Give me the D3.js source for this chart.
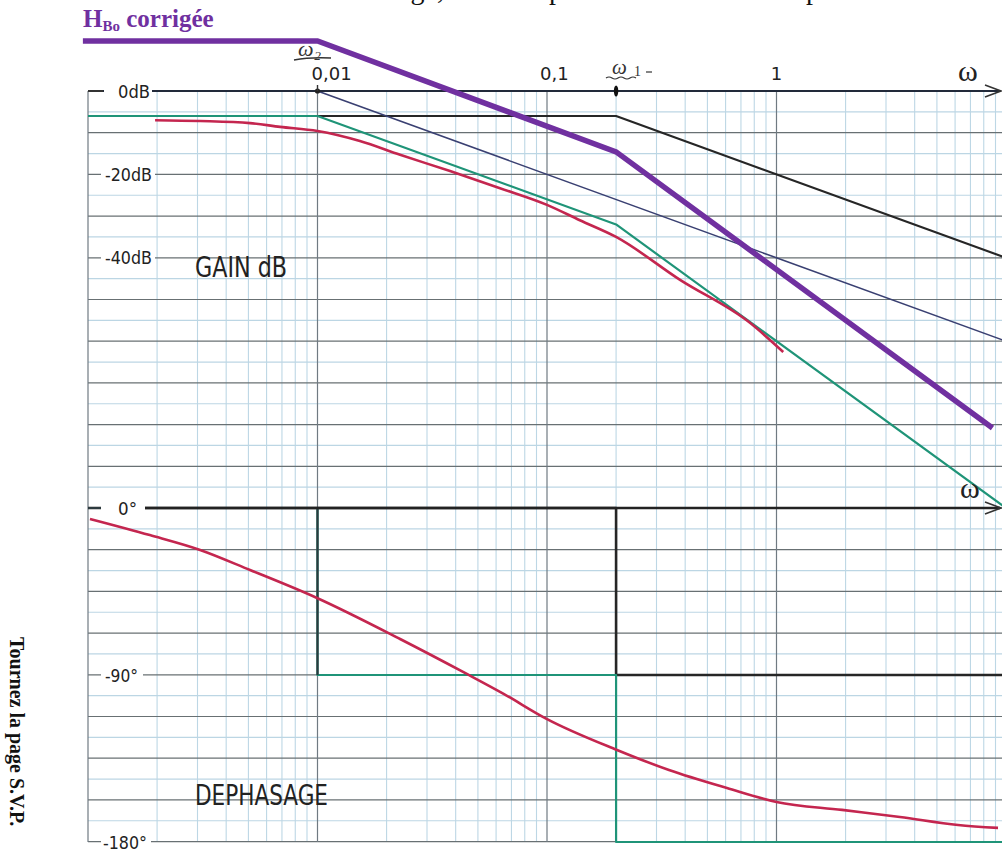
<!DOCTYPE html>
<html><head><meta charset="utf-8">
<script src="https://cdn.jsdelivr.net/npm/d3@7"></script>
<style>html,body{margin:0;padding:0;background:#fff;overflow:hidden}</style>
</head><body>
<script>
// ---------- data ----------
const decadeTicks = [0.01, 0.1, 1];
const decadeLabels = ["0,01", "0,1", "1"];
const gainTicks = [0, -20, -40];
const gainLabels = ["0dB", "-20dB", "-40dB"];
const phaseTicks = [0, -90, -180];
const phaseLabels = ["0°", "-90°", "-180°"];
const omega2 = 0.01;
const omega1 = 0.2;

// gain asymptotes [omega, dB]
const blackGain = [[0.001, -6], [0.2, -6], [10, -40]];
const greenGain = [[0.001, -6], [0.01, -6], [0.2, -32], [10, -100]];
const navyGain = [[0.001, 0], [0.01, 0], [10, -60]];
const purpleGain = [[0.00095, 12], [0.01, 12], [0.2, -14.6], [8.73, -80.8]];
// measured gain curve [omega, dB]
const redGain = [[0.00196, -7.0], [0.00308, -7.2], [0.00508, -7.7], [0.00687, -8.6], [0.01, -9.6],
  [0.0153, -12.0], [0.0229, -15.3], [0.0378, -19.2], [0.0624, -23.3], [0.1, -27.3], [0.139, -31.0],
  [0.2, -35.0], [0.38, -45.3], [0.766, -55.6], [1.07, -62.6]];

// phase asymptotes [omega, deg]
const blackPhase = [[0.001, 0], [0.2, 0], [0.2, -90], [10, -90]];
const greenPhase = [[0.001, 0], [0.01, 0], [0.01, -90], [0.2, -90], [0.2, -180], [10, -180]];
const navyPhase = [[0.001, 0], [0.01, 0], [0.01, -90]];
// measured phase curve [omega, deg]
const redPhase = [[0.00102, -5.9], [0.00186, -14.6], [0.00308, -22.6], [0.00508, -33.4], [0.00995, -48.5],
  [0.0229, -70.6], [0.0439, -88.9], [0.065, -100.3], [0.0991, -113.5], [0.2018, -130.4], [0.34, -141.2],
  [0.608, -150.9], [1.0, -158.4], [1.93, -162.7], [3.45, -166.5], [6.18, -170.8], [9.23, -172.4]];

// ---------- scales ----------
const W = 1002, H = 851;
const x = d3.scaleLog().domain([0.001, 10]).range([88, 1006]);
const yG = d3.scaleLinear().domain([0, -100]).range([91, 508]);
const yP = d3.scaleLinear().domain([0, -180]).range([508, 842]);

const svg = d3.select("body").append("svg").attr("width", W).attr("height", H)
  .style("font-family", "'DejaVu Sans', sans-serif");
svg.append("rect").attr("width", W).attr("height", H).attr("fill", "#ffffff");

// ---------- paper grid ----------
const grid = svg.append("g");
const minor = [];
[0.001, 0.01, 0.1, 1].forEach(d => { for (let k = 2; k <= 9; k++) minor.push(d * k); });
grid.selectAll(".vmin").data(minor).join("line")
  .attr("x1", d => x(d)).attr("x2", d => x(d)).attr("y1", yG(0)).attr("y2", yP(-180))
  .attr("stroke", "#bdd7e5").attr("stroke-width", 1.1);
const hvals = d3.range(-5, -181, -5);
grid.selectAll(".h").data(hvals).join("line")
  .attr("x1", x(0.001)).attr("x2", W).attr("y1", d => yG(d)).attr("y2", d => yG(d))
  .attr("stroke", d => d % 10 === 0 ? "#687073" : "#bcd6e4")
  .attr("stroke-width", d => d % 10 === 0 ? 1.2 : 1.2);
grid.selectAll(".vmaj").data([0.001, 0.01, 0.1, 1]).join("line")
  .attr("x1", d => x(d)).attr("x2", d => x(d)).attr("y1", yG(0)).attr("y2", yP(-180))
  .attr("stroke", "#707a82").attr("stroke-width", 1.2);

// ---------- curves ----------
const lineG = d3.line().x(d => x(d[0])).y(d => yG(d[1]));
const lineGs = d3.line().x(d => x(d[0])).y(d => yG(d[1])).curve(d3.curveMonotoneX);
const lineP = d3.line().x(d => x(d[0])).y(d => yP(d[1]));
const linePs = d3.line().x(d => x(d[0])).y(d => yP(d[1])).curve(d3.curveMonotoneX);

const curves = svg.append("g").attr("fill", "none").attr("stroke-linejoin", "round");
curves.append("path").attr("d", lineG(blackGain)).attr("stroke", "#262626").attr("stroke-width", 2.2);
curves.append("path").attr("d", lineG(greenGain)).attr("stroke", "#1f9478").attr("stroke-width", 2.2);
curves.append("path").attr("d", lineG(navyGain)).attr("stroke", "#3a4072").attr("stroke-width", 1.6);
curves.append("path").attr("d", lineGs(redGain)).attr("stroke", "#c4264f").attr("stroke-width", 2.6);

curves.append("path").attr("d", lineP(blackPhase)).attr("stroke", "#262626").attr("stroke-width", 2.6);
curves.append("path").attr("d", lineP(greenPhase)).attr("stroke", "#1f9478").attr("stroke-width", 2.2);
curves.append("path").attr("d", lineP(navyPhase)).attr("stroke", "#2c3a3e").attr("stroke-width", 2.2);
curves.append("path").attr("d", linePs(redPhase)).attr("stroke", "#c4264f").attr("stroke-width", 2.6);

// ---------- axes ----------
const axes = svg.append("g");
axes.append("line").attr("x1", x(0.001)).attr("x2", 1000).attr("y1", yG(0)).attr("y2", yG(0))
  .attr("stroke", "#222a3a").attr("stroke-width", 2.2);
axes.append("path").attr("d", `M985,${yG(0) - 6}L1001,${yG(0)}L985,${yG(0) + 6}`)
  .attr("fill", "none").attr("stroke", "#333").attr("stroke-width", 1.6);
axes.append("line").attr("x1", 145).attr("x2", 1000).attr("y1", yP(0)).attr("y2", yP(0))
  .attr("stroke", "#222").attr("stroke-width", 2.4);
axes.append("path").attr("d", `M985,${yP(0) - 6}L1001,${yP(0)}L985,${yP(0) + 6}`)
  .attr("fill", "none").attr("stroke", "#333").attr("stroke-width", 1.6);

axes.append("circle").attr("cx", x(omega2)).attr("cy", yG(0)).attr("r", 2.6).attr("fill", "#222");
axes.append("line").attr("x1", x(omega2)).attr("x2", x(omega2)).attr("y1", yG(0) - 6).attr("y2", yG(0))
  .attr("stroke", "#333").attr("stroke-width", 1.4);
axes.append("ellipse").attr("cx", x(omega1)).attr("cy", yG(0)).attr("rx", 2.2).attr("ry", 5.5).attr("fill", "#111");

const xOff = [-6, -7, 0];
const xAnchor = ["start", "start", "middle"];
axes.selectAll(".xl").data(decadeTicks).join("text")
  .attr("x", (d, i) => x(d) + xOff[i]).attr("y", 80)
  .attr("text-anchor", (d, i) => xAnchor[i])
  .attr("font-size", 18).attr("fill", "#222").text((d, i) => decadeLabels[i]);

const gLab = axes.selectAll(".gl").data(gainTicks).join("g");
gLab.append("rect").attr("x", d => d === 0 ? 104 : 101).attr("y", d => yG(d) - 8)
  .attr("width", d => d === 0 ? 48 : 54).attr("height", 16).attr("fill", "#fff");
gLab.append("text").attr("x", d => d === 0 ? 118 : 105).attr("y", d => yG(d) + 6.5)
  .attr("font-size", 18).attr("fill", "#222")
  .attr("textLength", d => d === 0 ? 32 : 47).attr("lengthAdjust", "spacingAndGlyphs")
  .text((d, i) => gainLabels[i]);
const pLab = axes.selectAll(".pl").data(phaseTicks).join("g");
pLab.append("rect").attr("x", 101).attr("y", d => yP(d) - 8)
  .attr("width", d => d === 0 ? 44 : (d === -90 ? 42 : 50)).attr("height", 16).attr("fill", "#fff");
pLab.append("text").attr("x", d => d === 0 ? 118 : (d === -90 ? 105 : 103)).attr("y", d => yP(d) + 6.5)
  .attr("font-size", 18).attr("fill", "#222")
  .attr("textLength", d => d === 0 ? 19 : (d === -90 ? 33 : 44)).attr("lengthAdjust", "spacingAndGlyphs")
  .text((d, i) => phaseLabels[i]);

axes.append("line").attr("x1", 88).attr("x2", 103).attr("y1", yG(0)).attr("y2", yG(0))
  .attr("stroke", "#333").attr("stroke-width", 2);

svg.append("text").attr("x", 195).attr("y", 277).attr("font-size", 28).attr("fill", "#222")
  .attr("textLength", 92).attr("lengthAdjust", "spacingAndGlyphs").text("GAIN dB");
svg.append("text").attr("x", 195).attr("y", 805).attr("font-size", 28).attr("fill", "#222")
  .attr("textLength", 133).attr("lengthAdjust", "spacingAndGlyphs").text("DEPHASAGE");

svg.append("text").attr("x", 958).attr("y", 81).attr("font-family", "'Liberation Serif', serif")
  .attr("font-size", 30).attr("fill", "#222").text("ω");
svg.append("text").attr("x", 960).attr("y", 498).attr("font-family", "'Liberation Serif', serif")
  .attr("font-size", 30).attr("fill", "#222").text("ω");

svg.append("text").attr("x", 298).attr("y", 56).attr("font-family", "'Liberation Serif', serif")
  .attr("font-style", "italic").attr("font-size", 22).attr("fill", "#333").text("ω₂");
svg.append("path").attr("d", "M294,60 Q310,57 331,58").attr("fill", "none").attr("stroke", "#333").attr("stroke-width", 1.3);
svg.append("text").attr("x", 612).attr("y", 74).attr("font-family", "'Liberation Serif', serif")
  .attr("font-style", "italic").attr("font-size", 21).attr("fill", "#333").text("ω");
svg.append("text").attr("x", 634).attr("y", 76).attr("font-family", "'Liberation Serif', serif")
  .attr("font-size", 14).attr("fill", "#333").text("1");
svg.append("line").attr("x1", 646).attr("x2", 652).attr("y1", 72).attr("y2", 72).attr("stroke", "#333").attr("stroke-width", 1.2);
svg.append("path").attr("d", "M606,78 q3,-2 6,0 t6,0 t6,0 t6,0 t6,0").attr("fill", "none")
  .attr("stroke", "#333").attr("stroke-width", 1.2);

// ---------- corrected open-loop gain (purple) ----------
svg.append("path").attr("d", lineG(purpleGain)).attr("fill", "none")
  .attr("stroke", "#7030a0").attr("stroke-width", 5.5).attr("stroke-linejoin", "miter");
const ttl = svg.append("text").attr("x", 83).attr("y", 27).attr("font-family", "'Liberation Serif', serif")
  .attr("font-weight", "bold").attr("font-size", 25).attr("fill", "#7030a0");
ttl.append("tspan").text("H");
ttl.append("tspan").attr("font-size", 15).attr("dy", 4).text("Bo");
ttl.append("tspan").attr("dy", -4).text(" corrigée");

// ---------- page remnants (cut by the scan's top edge) ----------
const serif = "'Liberation Serif', serif";
svg.append("text").attr("x", 444).attr("y", -1).attr("text-anchor", "end").attr("font-family", serif)
  .attr("font-size", 28).attr("fill", "#111").text("de la marge,");
svg.append("text").attr("x", 549).attr("y", -1).attr("font-family", serif)
  .attr("font-size", 28).attr("fill", "#111").text("pour obtenir une");
svg.append("text").attr("x", 806).attr("y", -1).attr("font-family", serif)
  .attr("font-size", 28).attr("fill", "#111").text("phase");
svg.append("text").attr("transform", "translate(10,637) rotate(90)").attr("font-family", serif)
  .attr("font-weight", "bold").attr("font-size", 20).attr("fill", "#111").text("Tournez la page S.V.P.");
</script>
</body></html>
